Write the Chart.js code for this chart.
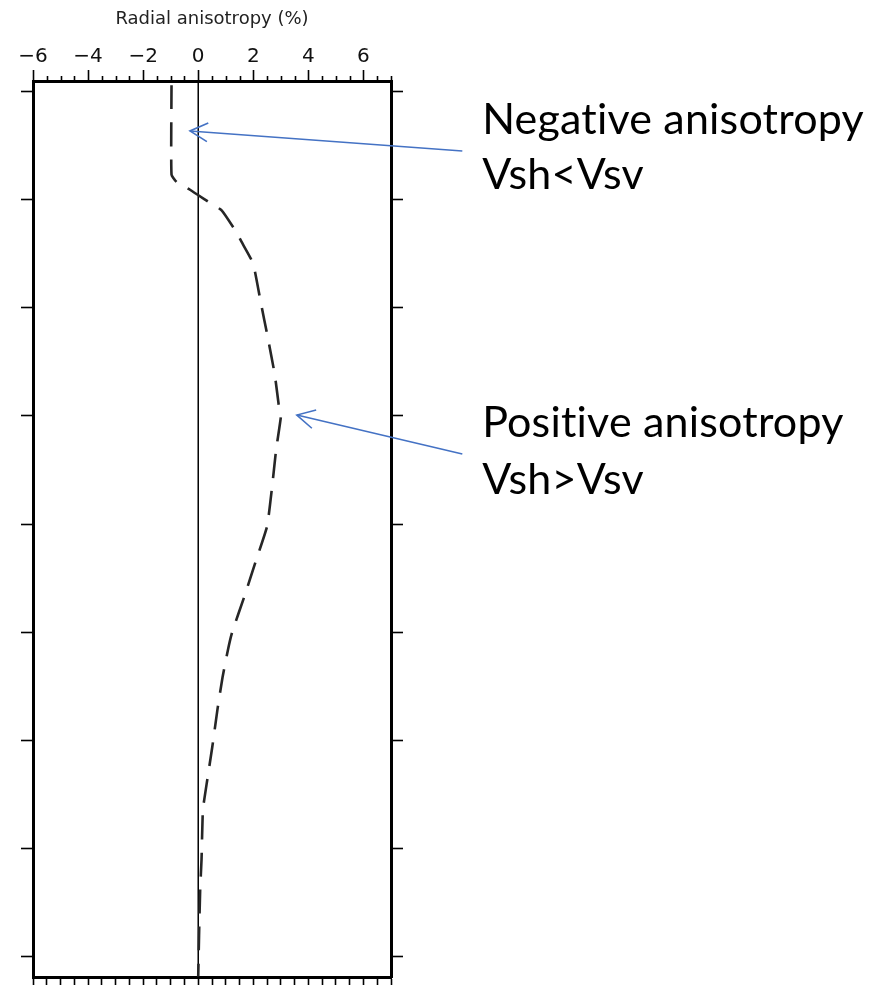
<!DOCTYPE html>
<html>
<head>
<meta charset="utf-8">
<script src="https://cdn.jsdelivr.net/npm/chart.js@4.4.1/dist/chart.umd.min.js"></script>
<style>
  html, body { margin: 0; padding: 0; background: #ffffff; }
  #wrap { width: 890px; height: 986px; position: relative; }
</style>
</head>
<body>
<div id="wrap"><canvas id="c" width="890" height="986"></canvas></div>
<script>
// ---------- data ----------
const depth = [-5.5, 77, 84, 91, 103, 110, 128, 139, 159, 195, 228, 262, 297, 301,
               331, 366, 402, 435, 468, 500, 516, 542, 571, 606, 641, 664, 710, 738, 780, 818];
const anisotropy = [-0.97, -0.97, -0.78, -0.30, 0.42, 0.85, 1.33, 1.57, 1.99, 2.27, 2.53, 2.78, 2.96, 3.00,
                    2.83, 2.68, 2.50, 2.08, 1.66, 1.23, 1.08, 0.88, 0.70, 0.51, 0.30, 0.17, 0.12, 0.07, 0.03, 0.00];
const xMajorTicks = [-6, -4, -2, 0, 2, 4, 6];
const xMinorTicks = [-5.5, -5, -4.5, -3.5, -3, -2.5, -1.5, -1, -0.5, 0.5, 1, 1.5, 2.5, 3, 3.5, 4.5, 5, 5.5, 6.5, 7];
const xBottomTicks = [-6, -5.5, -5, -4.5, -4, -3.5, -3, -2.5, -2, -1.5, -1, -0.5, 0, 0.5, 1, 1.5, 2, 2.5, 3, 3.5, 4, 4.5, 5, 5.5, 6, 6.5, 7];
const yTicks = [0, 100, 200, 300, 400, 500, 600, 700, 800];
const axisTitle = 'Radial anisotropy (%)';
const noteNegative = ['Negative anisotropy', 'Vsh<Vsv'];
const notePositive = ['Positive anisotropy', 'Vsh>Vsv'];

// ---------- axis ranges and annotation placement (data units) ----------
const X_MIN = -6, X_MAX = 7, Y_MIN = -9.5, Y_MAX = 818.5;
const notes = [
  { lines: noteNegative, textX: 10.31, baselines: [39.5, 90.5], tip: [-0.30, 36.7], tail: [9.59, 55.2] },
  { lines: notePositive, textX: 10.31, baselines: [319.5, 372], tip: [3.58, 299.2], tail: [9.59, 335.2] }
];

const setTicks = arr => scale => { scale.ticks = arr.map(v => ({ value: v })); };

const notesPlugin = {
  id: 'notes',
  afterDraw(chart) {
    const { ctx } = chart;
    const sx = chart.scales.x, sy = chart.scales.y;
    ctx.save();
    // minor ticks on the top axis
    ctx.strokeStyle = '#000';
    ctx.lineWidth = 1.6;
    const top = chart.chartArea.top;
    xMinorTicks.forEach(v => {
      const px = Math.round(sx.getPixelForValue(v)) + 0.5;
      ctx.beginPath();
      ctx.moveTo(px, top);
      ctx.lineTo(px, top - 5);
      ctx.stroke();
    });
    // annotations
    notes.forEach(n => {
      ctx.fillStyle = '#000';
      ctx.font = '43px Lato';
      if ('letterSpacing' in ctx) ctx.letterSpacing = '0.2px';
      ctx.textBaseline = 'alphabetic';
      ctx.textAlign = 'left';
      n.lines.forEach((t, i) => {
        ctx.fillText(t, sx.getPixelForValue(n.textX), sy.getPixelForValue(n.baselines[i]));
      });
      const x1 = sx.getPixelForValue(n.tail[0]), y1 = sy.getPixelForValue(n.tail[1]);
      const x2 = sx.getPixelForValue(n.tip[0]), y2 = sy.getPixelForValue(n.tip[1]);
      ctx.strokeStyle = '#4472C4';
      ctx.lineWidth = 1.6;
      ctx.beginPath();
      ctx.moveTo(x1, y1);
      ctx.lineTo(x2, y2);
      ctx.stroke();
      const ang = Math.atan2(y1 - y2, x1 - x2);
      const L = 20, h = 28 * Math.PI / 180;
      ctx.beginPath();
      ctx.moveTo(x2 + L * Math.cos(ang - h), y2 + L * Math.sin(ang - h));
      ctx.lineTo(x2, y2);
      ctx.lineTo(x2 + L * Math.cos(ang + h), y2 + L * Math.sin(ang + h));
      ctx.stroke();
    });
    ctx.restore();
  }
};

const hiddenAxis = (pos, ticksArr, len, fit) => ({
  type: 'linear', position: pos,
  afterBuildTicks: setTicks(ticksArr),
  afterFit: fit,
  ticks: { display: false },
  grid: { drawOnChartArea: false, drawTicks: true, tickLength: len, tickWidth: 1.6, tickColor: '#000' },
  border: { display: true, width: 3, color: '#000' }
});

const xb = Object.assign(hiddenAxis('bottom', xBottomTicks, 8, s => { s.height = 9; }), { min: X_MIN, max: X_MAX });
const yl = Object.assign(hiddenAxis('left', yTicks, 12, s => { s.width = 12; }), { min: Y_MIN, max: Y_MAX, reverse: true });
const yr = Object.assign(hiddenAxis('right', yTicks, 12, s => { s.width = 12; }), { min: Y_MIN, max: Y_MAX, reverse: true });

new Chart(document.getElementById('c'), {
  type: 'scatter',
  data: {
    datasets: [
      {
        data: anisotropy.map((v, i) => ({ x: v, y: depth[i] })),
        showLine: true, borderColor: '#262626', borderWidth: 2.6, borderDash: [24, 13],
        pointRadius: 0, tension: 0.15, fill: false, xAxisID: 'x', yAxisID: 'y'
      },
      {
        data: [{ x: 0, y: Y_MIN }, { x: 0, y: Y_MAX }],
        showLine: true, borderColor: '#000', borderWidth: 1.5, pointRadius: 0, fill: false,
        xAxisID: 'x', yAxisID: 'y'
      }
    ]
  },
  options: {
    responsive: false, animation: false, devicePixelRatio: 1,
    layout: { padding: { left: 21, right: 487, top: 0, bottom: 0 } },
    plugins: { legend: { display: false }, tooltip: { enabled: false } },
    scales: {
      x: {
        type: 'linear', position: 'top', min: X_MIN, max: X_MAX,
        afterBuildTicks: setTicks(xMajorTicks),
        afterFit: s => { s.height = 81; },
        ticks: {
          font: { family: 'DejaVu Sans', size: 20 }, color: '#111', padding: 1,
          maxRotation: 0, autoSkip: false,
          callback: v => (v < 0 ? '\u2212' + Math.abs(v) : String(v))
        },
        grid: { drawOnChartArea: false, drawTicks: true, tickLength: 11, tickWidth: 1.6, tickColor: '#000' },
        border: { display: true, width: 3, color: '#000' },
        title: { display: true, text: axisTitle, font: { family: 'DejaVu Sans', size: 18 }, color: '#222', padding: { top: 9, bottom: 0 } }
      },
      xb: xb,
      y: yl,
      yr: yr
    }
  },
  plugins: [notesPlugin]
});
</script>
</body>
</html>
